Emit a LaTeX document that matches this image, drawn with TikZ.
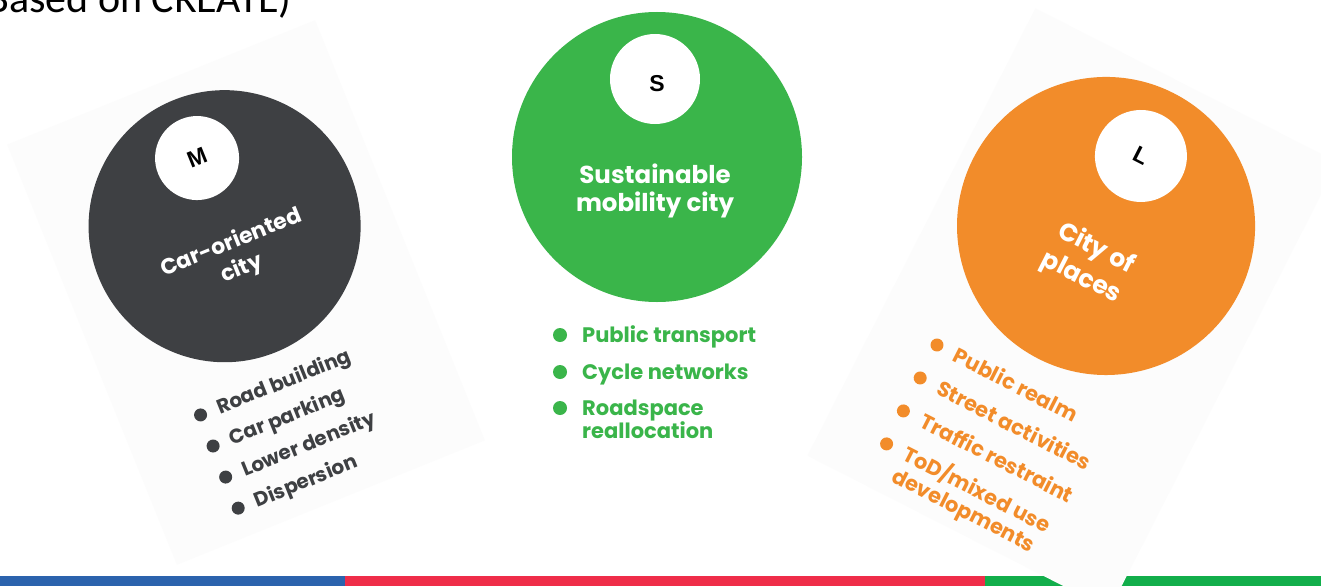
\documentclass[tikz,border=0pt]{standalone}
\usepackage{fontspec}
\newfontfamily\popfont{Poppins}
\newfontfamily\capfont{Carlito}
\newfontfamily\tagfont{Liberation Sans}
\definecolor{cardbg}{HTML}{FCFCFC}
\definecolor{cargray}{HTML}{3E4043}
\definecolor{cargreen}{HTML}{3AB54A}
\definecolor{carorange}{HTML}{F28C2A}
\definecolor{barblue}{HTML}{2B63AD}
\definecolor{barred}{HTML}{EF2D49}
\definecolor{bargreen}{HTML}{12AE4B}
\begin{document}
\begin{tikzpicture}[x=1pt,y=-1pt,
  disc/.style={circle,inner sep=0pt,minimum size=#1},
  tag/.style={font=\tagfont\bfseries\fontsize{23}{25}\selectfont,text=black,inner sep=0pt},
  title/.style 2 args={font=\popfont\bfseries\fontsize{#1}{#2}\selectfont,text=white,align=center,inner sep=0pt},
  item/.style={font=\popfont\bfseries\fontsize{#1}{#1}\selectfont,anchor=base west,inner sep=0pt},
]
\clip (0,0) rectangle (1321,586);
\fill[white] (0,0) rectangle (1321,586);

% heading, partly cut off by the frame
\node[anchor=base west,inner sep=0pt,font=\capfont\fontsize{42}{46}\selectfont] (head) at (-14,13) {Based on CREATE)};

% coloured strip along the foot
\fill[barblue] (0,576) rectangle (345,586);
\fill[barred] (345,576) rectangle (985,586);
\fill[bargreen] (985,576) rectangle (1321,586);

% ---- car-oriented city card ----
\begin{scope}[shift={(246,292.5)},rotate=22,transform shape]
  \fill[cardbg] (-166,-226.5) rectangle (166,226.5);
  \node[disc=272,fill=cargray] (mdisc) at (5,-69.5) {};
  \node[disc=84,fill=white] (mtag) at (5,-143) {};
  \node[tag] (mletter) at (mtag) {M};
  \node[title={22}{28}] (mtitle) at (5,-37) {Car-oriented\\city};
  \foreach \k/\t in {0/Road building,1/Car parking,2/Lower density,3/Dispersion}{
    \node[disc=13,fill=cargray] (mb\k) at (-88,96.5+33.5*\k) {};
    \node[item=20,text=cargray] (mi\k) at (-70,103.5+33.5*\k) {\t};
  }
\end{scope}

% ---- sustainable mobility city ----
\node[disc=290,fill=cargreen] (sdisc) at (657,157) {};
\node[disc=90,fill=white] (stag) at (655,79) {};
\node[tag] (sletter) at (657,84) {S};
\node[title={24.5}{28}] (stitle) at (655,191) {Sustainable\\mobility city};
\foreach \k/\t/\y in {0/Public transport/335,1/Cycle networks/372,2/Roadspace/408}{
  \node[disc=14,fill=cargreen] (sb\k) at (560,\y) {};
  \node[item=21,text=cargreen] (si\k) at (582,\y+7.5) {\t};
}
\node[item=21,text=cargreen] (si3) at (582,438) {reallocation};

% ---- city of places card ----
\begin{scope}[shift={(1072.5,309)},rotate=-27,transform shape]
  \fill[cardbg] (-169.5,-251) rectangle (169.5,251);
  \node[disc=298,fill=carorange] (ldisc) at (-7.8,-89.2) {};
  \node[disc=92,fill=white] (ltag) at (-8.5,-167.4) {};
  \node[tag] (lletter) at (ltag) {L};
  \node[title={25}{32.5}] (ltitle) at (-6.5,-48) {City of\\places};
  \foreach \k/\t in {0/Public realm,1/Street activities,2/Traffic restraint,3/{ToD/mixed use}}{
    \node[disc=13,fill=carorange] (lb\k) at (-104.4,93.6+37*\k) {};
    \node[item=21,text=carorange] (li\k) at (-84,101+37*\k) {\t};
  }
  \node[item=21,text=carorange] (li4) at (-84,101+37*3+24) {developments};
\end{scope}
\end{tikzpicture}
\end{document}
